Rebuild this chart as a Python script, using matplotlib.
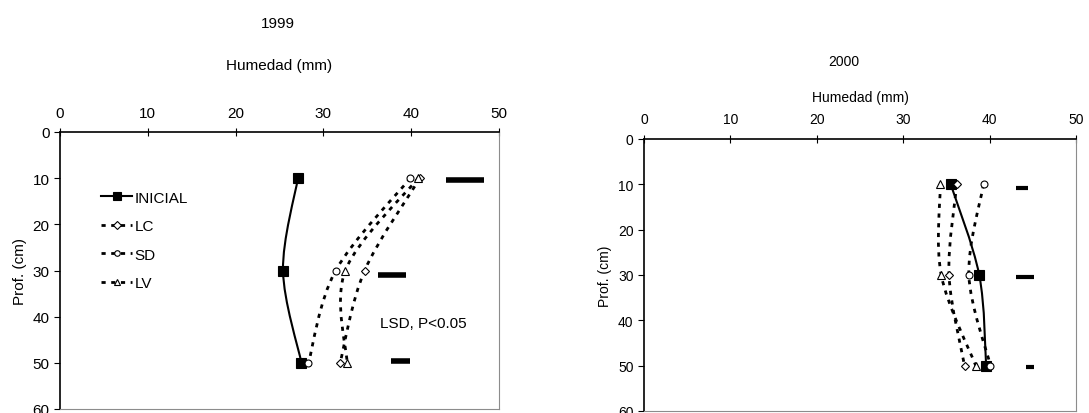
import matplotlib.pyplot as plt
import numpy as np
from matplotlib.path import Path
from matplotlib.patches import PathPatch
from matplotlib.lines import Line2D

plt.rcParams['font.family'] = ['Liberation Sans', 'DejaVu Sans']

depth = [10, 30, 50]
series = ['INICIAL', 'LC', 'SD', 'LV']

# 1999
hum_1999 = {
    'INICIAL': [27.1, 25.4, 27.5],
    'LC': [41.0, 34.7, 31.9],
    'SD': [39.9, 31.4, 28.3],
    'LV': [40.8, 32.5, 32.7],
}
lsd_1999_y = [10.3, 30.9, 49.5]
lsd_1999_x0 = [44.0, 36.2, 37.7]
lsd_1999_x1 = [48.3, 39.4, 39.9]

# 2000
hum_2000 = {
    'INICIAL': [35.5, 38.8, 39.6],
    'LC': [36.2, 35.3, 37.1],
    'SD': [39.3, 37.6, 40.1],
    'LV': [34.3, 34.4, 38.4],
}
lsd_2000_y = [10.7, 30.4, 50.3]
lsd_2000_x0 = [43.1, 43.1, 44.2]
lsd_2000_x1 = [44.4, 45.1, 45.1]

styles = {
    'INICIAL': dict(ls='-', marker='s', mfc='black', ms=7, lw=1.5),
    'LC': dict(ls=(0, (1.5, 2.0)), marker='D', mfc='white', ms=4.5, lw=2),
    'SD': dict(ls=(0, (1.5, 2.0)), marker='o', mfc='white', ms=5, lw=2),
    'LV': dict(ls=(0, (1.5, 2.0)), marker='^', mfc='white', ms=5.5, lw=2),
}


def smooth_path(xs, ys):
    # Excel-like smoothed line: Bezier segments with Catmull-Rom tangents
    p = np.column_stack([xs, ys]).astype(float)
    n = len(p)
    verts = [p[0]]
    codes = [Path.MOVETO]
    for i in range(n - 1):
        p0 = p[i - 1] if i > 0 else p[i]
        p3 = p[i + 2] if i + 2 < n else p[i + 1]
        c1 = p[i] + (p[i + 1] - p0) / 6
        c2 = p[i + 1] - (p3 - p[i]) / 6
        verts += [c1, c2, p[i + 1]]
        codes += [Path.CURVE4] * 3
    return Path(verts, codes)


def draw_panel(ax, data, ly, lx0, lx1, fs, lsd_lw, xlpad):
    for name in series:
        st = styles[name]
        path = smooth_path(data[name], depth)
        ax.add_patch(PathPatch(path, fill=False, ec='black', lw=st['lw'],
                               ls=st['ls'], zorder=2))
        ax.plot(data[name], depth, ls='none', marker=st['marker'],
                mfc=st['mfc'], mec='black', ms=st['ms'], mew=0.8, zorder=3)
    ax.hlines(ly, lx0, lx1, color='black', lw=lsd_lw)
    ax.set_xlim(0, 50)
    ax.set_ylim(60, 0)
    ax.set_xticks(range(0, 51, 10))
    ax.set_yticks(range(0, 61, 10))
    ax.xaxis.tick_top()
    ax.xaxis.set_label_position('top')
    ax.tick_params(axis='x', direction='inout', length=6, labelsize=fs, pad=6)
    ax.tick_params(axis='y', direction='out', length=4, labelsize=fs)
    ax.spines['right'].set_color('#8c8c8c')
    ax.spines['bottom'].set_color('#8c8c8c')
    for s in ['left', 'top']:
        ax.spines[s].set_linewidth(1.2)
    ax.set_xlabel('Humedad (mm)', fontsize=fs, labelpad=xlpad)
    ax.set_ylabel('Prof. (cm)', fontsize=fs, labelpad=4)


W, H = 1089, 414
fig = plt.figure(figsize=(W / 100, H / 100), dpi=100)

ax1 = fig.add_axes([60 / W, (H - 410) / H, 439 / W, 277 / H])
draw_panel(ax1, hum_1999, lsd_1999_y, lsd_1999_x0, lsd_1999_x1, 11, 4, 26)
ax1.text(0.73, 0.295, 'LSD, P<0.05', transform=ax1.transAxes, fontsize=11)
fig.text(278 / W, 1 - 24 / H, '1999', ha='center', va='center', fontsize=11)

handles = []
for name in series:
    st = styles[name]
    handles.append(Line2D([], [], color='black', ls=st['ls'], lw=st['lw'],
                          marker=st['marker'], mfc=st['mfc'], mec='black',
                          ms=st['ms'] * 0.8, mew=0.8))
ax1.legend(handles, series, loc='upper left', bbox_to_anchor=(0.08, 0.81),
           frameon=False, fontsize=11, handlelength=2.0, handletextpad=0.2,
           labelspacing=0.95, borderaxespad=0)

ax2 = fig.add_axes([644 / W, (H - 412) / H, 432 / W, 272 / H])
draw_panel(ax2, hum_2000, lsd_2000_y, lsd_2000_x0, lsd_2000_x1, 10, 3, 8)
fig.text(844 / W, 1 - 62 / H, '2000', ha='center', va='center', fontsize=10)

fig.savefig('out.png', dpi=100)
